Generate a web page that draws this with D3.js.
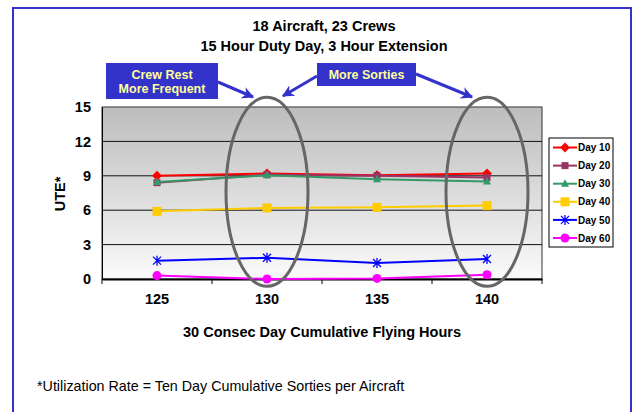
<!DOCTYPE html>
<html lang="en">
<head>
<meta charset="UTF-8">
<title>UTE vs Flying Hours</title>
<script src="https://d3js.org/d3.v7.min.js"></script>
<style>
  body { margin: 0; background: #fff; font-family: "Liberation Sans", Arial, sans-serif; }
  svg text { font-family: "Liberation Sans", Arial, sans-serif; }
</style>
</head>
<body>
<svg id="chart" width="636" height="412"></svg>
<script>
// chart data
const hours = ["125", "130", "135", "140"];
const seriesNames = ["Day 10", "Day 20", "Day 30", "Day 40", "Day 50", "Day 60"];
const day10 = [9.0, 9.2, 9.05, 9.2];
const day20 = [8.4, 9.1, 9.0, 8.85];
const day30 = [8.45, 9.05, 8.7, 8.5];
const day40 = [5.9, 6.2, 6.25, 6.4];
const day50 = [1.6, 1.85, 1.4, 1.75];
const day60 = [0.3, 0.0, 0.05, 0.37];
const yTicks = [0, 3, 6, 9, 12, 15];
const circledHours = ["130", "140"];

const seriesValues = [day10, day20, day30, day40, day50, day60];
const seriesColors = ["#ff0000", "#993366", "#339966", "#ffcc00", "#0000ff", "#ff00ff"];
const seriesShapes = ["diamond", "square", "triangle", "bigsquare", "star", "circle"];

const svg = d3.select("#chart");

// outer frame
svg.append("rect")
  .attr("x", 13).attr("y", 8).attr("width", 618).attr("height", 420)
  .attr("fill", "#fff").attr("stroke", "#3333cc").attr("stroke-width", 2);

const plot = { left: 102, right: 542, top: 107, bottom: 279 };

const x = d3.scaleBand().domain(hours).range([plot.left, plot.right]).paddingInner(0).paddingOuter(0);
const y = d3.scaleLinear().domain([0, 15]).range([plot.bottom, plot.top]);
const cx = d => x(d) + x.bandwidth() / 2;

// plot background gradient
const defs = svg.append("defs");
const grad = defs.append("linearGradient").attr("id", "bg").attr("x1", 0).attr("x2", 0).attr("y1", 0).attr("y2", 1);
grad.append("stop").attr("offset", "0%").attr("stop-color", "#bdbdbd");
grad.append("stop").attr("offset", "100%").attr("stop-color", "#fafafa");

svg.append("rect")
  .attr("x", plot.left).attr("y", plot.top)
  .attr("width", plot.right - plot.left).attr("height", plot.bottom - plot.top)
  .attr("fill", "url(#bg)").attr("stroke", "#333").attr("stroke-width", 1);

// gridlines
svg.append("g").selectAll("line")
  .data(yTicks.filter(t => t > 0 && t < 15))
  .join("line")
  .attr("x1", plot.left).attr("x2", plot.right)
  .attr("y1", d => y(d)).attr("y2", d => y(d))
  .attr("stroke", "#111").attr("stroke-width", 1);

// y axis
const yAxis = svg.append("g")
  .attr("transform", `translate(${plot.left},0)`)
  .call(d3.axisLeft(y).tickValues(yTicks).tickSize(0).tickPadding(11));
yAxis.select(".domain").attr("stroke", "#000");
yAxis.selectAll("text").attr("font-size", 14.5).attr("font-weight", "bold").attr("fill", "#000");

// x axis
const xAxis = svg.append("g")
  .attr("transform", `translate(0,${plot.bottom})`)
  .call(d3.axisBottom(x).tickSize(0).tickPadding(15));
xAxis.select(".domain").attr("stroke", "#000").attr("stroke-width", 2);
xAxis.selectAll("text").attr("font-size", 14.5).attr("font-weight", "bold").attr("fill", "#000");
// category boundary ticks
svg.append("g").selectAll("line")
  .data(hours.concat(["end"]))
  .join("line")
  .attr("x1", d => d === "end" ? plot.right : x(d))
  .attr("x2", d => d === "end" ? plot.right : x(d))
  .attr("y1", plot.bottom).attr("y2", plot.bottom + 5)
  .attr("stroke", "#000");

// marker drawing
function drawMarker(g, shape, color, px, py) {
  if (shape === "diamond") {
    g.append("path").attr("d", `M${px},${py - 5}L${px + 5},${py}L${px},${py + 5}L${px - 5},${py}Z`).attr("fill", color);
  } else if (shape === "square") {
    g.append("rect").attr("x", px - 3.5).attr("y", py - 3.5).attr("width", 7).attr("height", 7).attr("fill", color);
  } else if (shape === "bigsquare") {
    g.append("rect").attr("x", px - 4.5).attr("y", py - 4.5).attr("width", 9).attr("height", 9).attr("fill", color);
  } else if (shape === "triangle") {
    g.append("path").attr("d", `M${px},${py - 4.5}L${px + 4},${py + 3}L${px - 4},${py + 3}Z`).attr("fill", color);
  } else if (shape === "star") {
    g.append("path")
      .attr("d", `M${px - 4},${py - 4}L${px + 4},${py + 4}M${px - 4},${py + 4}L${px + 4},${py - 4}M${px},${py - 5}L${px},${py + 5}`)
      .attr("stroke", color).attr("stroke-width", 1.3).attr("fill", "none");
  } else if (shape === "circle") {
    g.append("circle").attr("cx", px).attr("cy", py).attr("r", 4.5).attr("fill", color);
  }
}

// series lines
const line = d3.line().x((d, i) => cx(hours[i])).y(d => y(d));
seriesValues.forEach((vals, si) => {
  const g = svg.append("g");
  g.append("path").datum(vals).attr("d", line)
    .attr("fill", "none").attr("stroke", seriesColors[si]).attr("stroke-width", 2);
  vals.forEach((v, i) => drawMarker(g, seriesShapes[si], seriesColors[si], cx(hours[i]), y(v)));
});

// ellipses around highlighted categories
svg.append("g").selectAll("ellipse")
  .data(circledHours)
  .join("ellipse")
  .attr("cx", d => cx(d)).attr("cy", y(7.6))
  .attr("rx", 41).attr("ry", 94.5)
  .attr("fill", "none").attr("stroke", "#666").attr("stroke-width", 3);

// legend
const leg = svg.append("g");
leg.append("rect").attr("x", 549).attr("y", 138).attr("width", 64).attr("height", 109)
  .attr("fill", "#fff").attr("stroke", "#000");
seriesNames.forEach((name, i) => {
  const ly = 147.5 + i * 18.1;
  leg.append("line").attr("x1", 553).attr("x2", 577).attr("y1", ly).attr("y2", ly)
    .attr("stroke", seriesColors[i]).attr("stroke-width", 2);
  drawMarker(leg, seriesShapes[i], seriesColors[i], 565, ly);
  leg.append("text").attr("x", 578).attr("y", ly + 3.6).text(name)
    .attr("font-size", 10).attr("font-weight", "bold").attr("fill", "#000");
});

// titles
svg.append("text").attr("x", 324).attr("y", 31).attr("text-anchor", "middle")
  .attr("font-size", 14.5).attr("font-weight", "bold").text("18 Aircraft, 23 Crews");
svg.append("text").attr("x", 324).attr("y", 51).attr("text-anchor", "middle")
  .attr("font-size", 14.5).attr("font-weight", "bold").text("15 Hour Duty Day, 3 Hour Extension");

// axis titles
svg.append("text").attr("transform", "translate(65,194) rotate(-90)").attr("text-anchor", "middle")
  .attr("font-size", 14.5).attr("font-weight", "bold").text("UTE*");
svg.append("text").attr("x", 322).attr("y", 337).attr("text-anchor", "middle")
  .attr("font-size", 14.5).attr("font-weight", "bold").text("30 Consec Day Cumulative Flying Hours");

// footnote
svg.append("text").attr("x", 37).attr("y", 391)
  .attr("font-size", 14.3).text("*Utilization Rate = Ten Day Cumulative Sorties per Aircraft");

// callouts
defs.append("marker").attr("id", "arrow").attr("viewBox", "0 0 10 10")
  .attr("refX", 9).attr("refY", 5).attr("markerWidth", 4).attr("markerHeight", 4)
  .attr("orient", "auto").attr("markerUnits", "strokeWidth")
  .append("path").attr("d", "M0,0L10,5L0,10L3,5Z").attr("fill", "#3333cc");

const arrows = [
  [[218, 82], [253, 97]],
  [[317, 76], [283, 96]],
  [[416, 74], [472, 97]]
];
svg.append("g").selectAll("line").data(arrows).join("line")
  .attr("x1", d => d[0][0]).attr("y1", d => d[0][1])
  .attr("x2", d => d[1][0]).attr("y2", d => d[1][1])
  .attr("stroke", "#3333cc").attr("stroke-width", 3).attr("marker-end", "url(#arrow)");

svg.append("rect").attr("x", 106).attr("y", 63).attr("width", 112).attr("height", 36).attr("fill", "#3333cc");
svg.append("rect").attr("x", 317).attr("y", 63).attr("width", 99).attr("height", 23).attr("fill", "#3333cc");
[["Crew Rest", 162, 78.5], ["More Frequent", 162, 92.5], ["More Sorties", 366.5, 79]].forEach(([t, tx, ty]) => {
  svg.append("text").attr("x", tx).attr("y", ty).attr("text-anchor", "middle")
    .attr("font-size", 12.5).attr("font-weight", "bold").attr("fill", "#ffff99").text(t);
});
</script>
</body>
</html>
